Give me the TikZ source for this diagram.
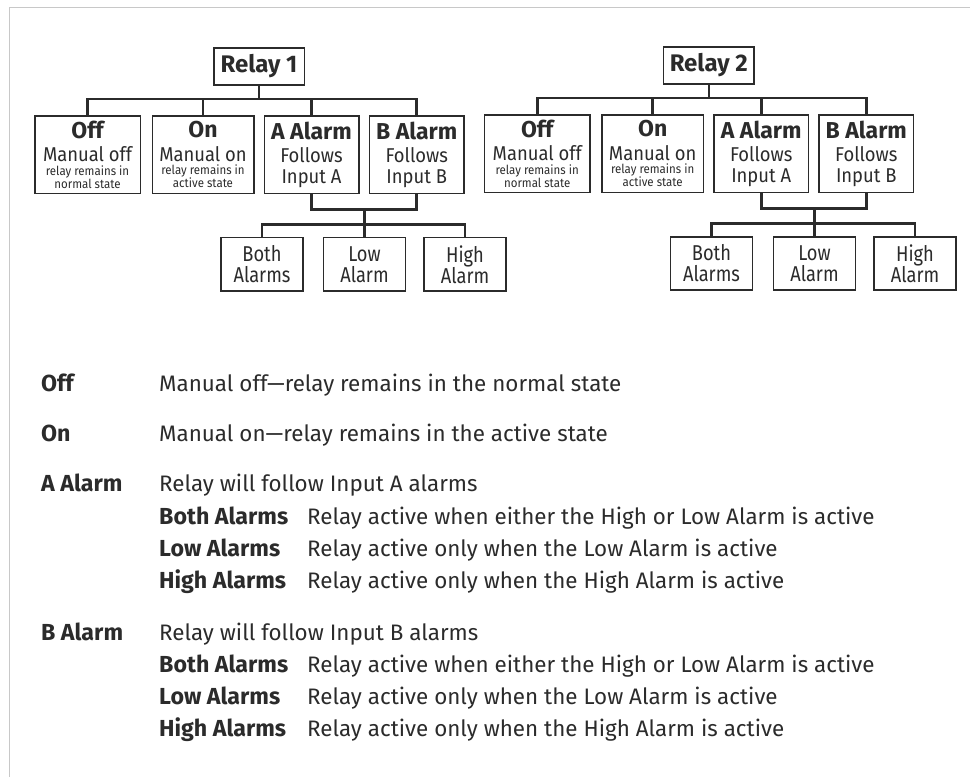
\documentclass[tikz,border=0pt]{standalone}
\usepackage{fontspec}
\setmainfont{Fira Sans}
\newfontfamily\boxfont[FakeStretch=0.92]{Fira Sans}
\newfontfamily\leaffont[FakeStretch=0.85]{Fira Sans}
\definecolor{ink}{HTML}{2B2B2B}
\definecolor{edge}{HTML}{C8C8C8}

\begin{document}
\begin{tikzpicture}[x=1pt, y=-1pt,
  box/.style={draw=ink, line width=1.6pt, inner sep=0pt, align=center, text=ink, minimum height=77.3pt},
  mode/.style={box, font=\boxfont\fontsize{12.5}{11.6}\selectfont},
  alarm/.style={box, font=\boxfont\fontsize{20}{21}\selectfont},
  head/.style={draw=ink, line width=1.6pt, inner sep=0pt, text=ink, minimum width=90.6pt, minimum height=36.7pt, font=\fontsize{24}{24}\selectfont\bfseries},
  leaf/.style={draw=ink, line width=1.6pt, inner sep=0pt, align=center, text=ink, minimum width=81.7pt, minimum height=53.3pt, font=\leaffont\fontsize{21.5}{21}\selectfont},
  bond/.style={draw=ink, line width=2.6pt},
  term/.style={anchor=base west, inner sep=0pt, text=ink, font=\fontsize{23.2}{24}\selectfont\bfseries},
  note/.style={anchor=base west, inner sep=0pt, text=ink, font=\fontsize{22.4}{24}\selectfont}]
  \useasboundingbox (0,0) rectangle (970,777);
  \draw[edge, line width=1.5pt] (9.3,777) -- (9.3,7.3) -- (970,7.3);

  % relay 1
  \node[head] (R1) at (259, 66.5) {Relay 1};
  \node[mode, minimum width=105.6pt] (Off1) at (87.5, 154.7) {{\rmfamily\fontsize{23}{24}\selectfont\bfseries Off}\\[7pt]{\fontsize{20}{20}\selectfont Manual off}\\[1.8pt]relay remains in\\normal state};
  \node[mode, minimum width=101.4pt] (On1) at (203, 154.7) {{\rmfamily\fontsize{23}{24}\selectfont\bfseries On}\\[7pt]{\fontsize{20}{20}\selectfont Manual on}\\[1.8pt]relay remains in\\active state};
  \node[alarm, minimum width=94.4pt] (A1) at (311.5, 154.7) {{\rmfamily\fontsize{23}{24}\selectfont\bfseries A Alarm}\\[2pt]Follows\\Input A};
  \node[alarm, minimum width=94.7pt] (B1) at (416.7, 154.7) {{\rmfamily\fontsize{23}{24}\selectfont\bfseries B Alarm}\\[2pt]Follows\\Input B};
  \node[leaf] (Both1) at (262, 264.3) {Both\\Alarms};
  \node[leaf] (Low1) at (364.5, 264.3) {Low\\Alarm};
  \node[leaf] (High1) at (465, 264.3) {High\\Alarm};
  \coordinate (J1) at (364.5, 209.3);
  \draw[bond] (R1.south) -- ++(0,13.5) -| (Off1.north);
  \draw[bond] (R1.south) -- ++(0,13.5) -| (On1.north);
  \draw[bond] (R1.south) -- ++(0,13.5) -| (A1.north);
  \draw[bond] (R1.south) -- ++(0,13.5) -| (B1.north);
  \draw[bond] (A1.south) |- (J1) -| (B1.south);
  \draw[bond] (J1) -- (Low1.north);
  \draw[bond] (J1) -- ++(0,15) -| (Both1.north);
  \draw[bond] (J1) -- ++(0,15) -| (High1.north);

  % relay 2
  \node[head] (R2) at (708.8, 65.5) {Relay 2};
  \node[mode, minimum width=105.7pt] (Off2) at (537.2, 153.7) {{\rmfamily\fontsize{23}{24}\selectfont\bfseries Off}\\[7pt]{\fontsize{20}{20}\selectfont Manual off}\\[1.8pt]relay remains in\\normal state};
  \node[mode, minimum width=101.3pt] (On2) at (652.7, 153.7) {{\rmfamily\fontsize{23}{24}\selectfont\bfseries On}\\[7pt]{\fontsize{20}{20}\selectfont Manual on}\\[1.8pt]relay remains in\\active state};
  \node[alarm, minimum width=94.3pt] (A2) at (761.2, 153.7) {{\rmfamily\fontsize{23}{24}\selectfont\bfseries A Alarm}\\[2pt]Follows\\Input A};
  \node[alarm, minimum width=94.7pt] (B2) at (866.3, 153.7) {{\rmfamily\fontsize{23}{24}\selectfont\bfseries B Alarm}\\[2pt]Follows\\Input B};
  \node[leaf] (Both2) at (711.5, 263.5) {Both\\Alarms};
  \node[leaf] (Low2) at (814.5, 263.5) {Low\\Alarm};
  \node[leaf] (High2) at (915, 263.5) {High\\Alarm};
  \coordinate (J2) at (814.5, 208.3);
  \draw[bond] (R2.south) -- ++(0,13.5) -| (Off2.north);
  \draw[bond] (R2.south) -- ++(0,13.5) -| (On2.north);
  \draw[bond] (R2.south) -- ++(0,13.5) -| (A2.north);
  \draw[bond] (R2.south) -- ++(0,13.5) -| (B2.north);
  \draw[bond] (A2.south) |- (J2) -| (B2.south);
  \draw[bond] (J2) -- (Low2.north);
  \draw[bond] (J2) -- ++(0,15) -| (Both2.north);
  \draw[bond] (J2) -- ++(0,15) -| (High2.north);

  % legend
  \node[term] (tOff) at (41, 391.7) {Off};
  \node[note] (dOff) at (159, 391.7) {Manual off---relay remains in the normal state};
  \node[term] (tOn) at (41, 441.7) {On};
  \node[note] (dOn) at (159, 441.7) {Manual on---relay remains in the active state};
  \node[term] (tA) at (41, 491.7) {A Alarm};
  \node[note] (dA) at (159, 491.7) {Relay will follow Input A alarms};
  \node[term] (tBothA) at (159, 524.3) {Both Alarms};
  \node[note] (dBothA) at (307, 524.3) {Relay active when either the High or Low Alarm is active};
  \node[term] (tLowA) at (159, 556.3) {Low Alarms};
  \node[note] (dLowA) at (307, 556.3) {Relay active only when the Low Alarm is active};
  \node[term] (tHighA) at (159, 588.3) {High Alarms};
  \node[note] (dHighA) at (307, 588.3) {Relay active only when the High Alarm is active};
  \node[term] (tB) at (41, 640.5) {B Alarm};
  \node[note] (dB) at (159, 640.5) {Relay will follow Input B alarms};
  \node[term] (tBothB) at (159, 672.5) {Both Alarms};
  \node[note] (dBothB) at (307, 672.5) {Relay active when either the High or Low Alarm is active};
  \node[term] (tLowB) at (159, 704.5) {Low Alarms};
  \node[note] (dLowB) at (307, 704.5) {Relay active only when the Low Alarm is active};
  \node[term] (tHighB) at (159, 736.5) {High Alarms};
  \node[note] (dHighB) at (307, 736.5) {Relay active only when the High Alarm is active};
\end{tikzpicture}
\end{document}
